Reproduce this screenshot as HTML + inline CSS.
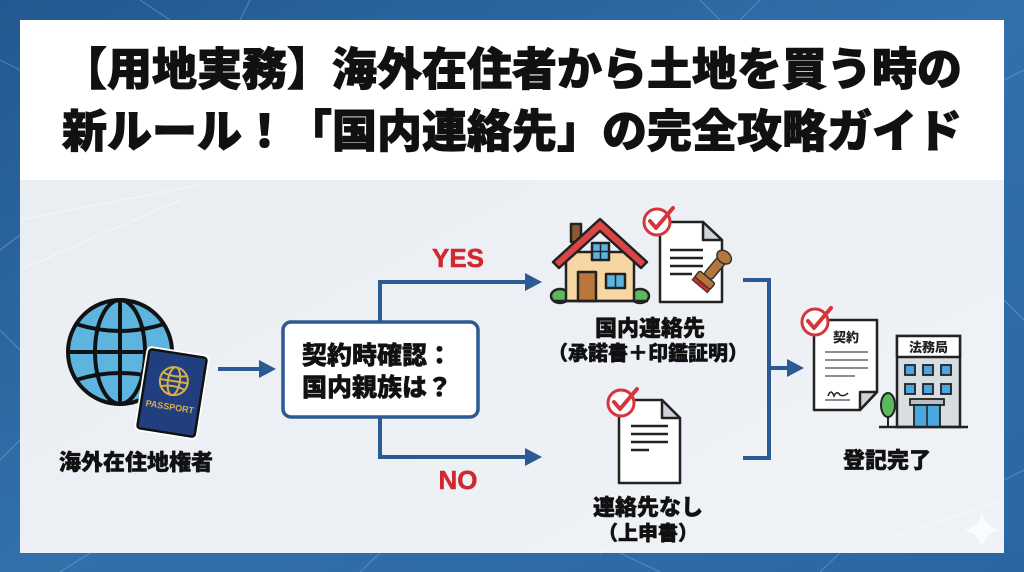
<!DOCTYPE html>
<html><head><meta charset="utf-8"><style>
html,body{margin:0;padding:0;background:#2b65a0;}
svg{display:block;}
text{font-family:"Liberation Sans","Noto Sans CJK JP",sans-serif;font-weight:900;}
.t{stroke:#111;stroke-width:1;}
.l{stroke:#111;stroke-width:0.5;}
.r{stroke:#d0282e;stroke-width:0.5;}
</style></head><body>
<svg width="1024" height="572" viewBox="0 0 1024 572" xmlns="http://www.w3.org/2000/svg">
<defs>
<linearGradient id="bg" x1="0" y1="0" x2="1" y2="1">
<stop offset="0" stop-color="#235891"/><stop offset="0.5" stop-color="#3270ab"/><stop offset="1" stop-color="#2a66a3"/>
</linearGradient>
<linearGradient id="body" x1="0" y1="0" x2="1" y2="1">
<stop offset="0" stop-color="#e9edf2"/><stop offset="1" stop-color="#eff2f6"/>
</linearGradient>
</defs>
<rect width="1024" height="572" fill="url(#bg)"/>
<g stroke="#7fb0dc" stroke-width="1.2" opacity="0.45" fill="none">
<path d="M0,60 L20,70 M0,250 L20,235 M0,330 L20,350 M0,460 L20,440 M140,0 L170,20 M250,0 L240,20 M700,0 L720,20 M760,0 L740,20 M380,553 L360,572 M620,553 L660,572 M840,553 L820,572 M1004,80 L1024,70 M1004,300 L1024,320 M1004,480 L1024,470 M90,553 L60,572"/>
</g>
<rect x="20" y="20" width="984" height="533" fill="url(#body)"/>
<rect x="20" y="20" width="984" height="160" fill="#ffffff"/>
<g stroke="#ffffff" stroke-width="1" opacity="0.5" fill="none">
<path d="M20,220 L200,185 M20,270 L180,200 M600,553 L760,470 M850,553 L1004,500"/>
</g>

<!-- Title -->
<text class="t" x="512" y="85" font-size="45" text-anchor="middle" fill="#111">【用地実務】海外在住者から土地を買う時の</text>
<text class="t" x="512" y="147" font-size="45" text-anchor="middle" fill="#111">新ルール！「国内連絡先」の完全攻略ガイド</text>

<!-- Globe -->
<g stroke="#111" stroke-width="4" fill="none">
<circle cx="120" cy="352" r="52" fill="#5db4df"/>
<ellipse cx="120" cy="352" rx="25" ry="52"/>
<line x1="120" y1="300" x2="120" y2="404"/>
<line x1="68" y1="352" x2="172" y2="352"/>
<path d="M76,324 Q120,338 164,324"/>
<path d="M76,380 Q120,366 164,380"/>
</g>
<!-- Passport -->
<g transform="translate(172,393) rotate(9)">
<rect x="-32" y="-43" width="64" height="86" rx="5" fill="#ffffff"/>
<rect x="-29" y="-40" width="58" height="80" rx="3" fill="#213f7e" stroke="#111" stroke-width="2.5"/>
<g stroke="#d7ae4c" stroke-width="2" fill="none">
<circle cx="0" cy="-12" r="14"/>
<ellipse cx="0" cy="-12" rx="6" ry="14"/>
<line x1="-14" y1="-12" x2="14" y2="-12"/>
<path d="M-12,-19 Q0,-15 12,-19 M-12,-5 Q0,-9 12,-5"/>
</g>
<text x="0" y="17" font-size="9" text-anchor="middle" fill="#d7ae4c" font-weight="700">PASSPORT</text>
</g>
<text class="l" x="136" y="470" font-size="22" text-anchor="middle" fill="#111">海外在住地権者</text>

<!-- arrow to box -->
<line x1="218" y1="369" x2="262" y2="369" stroke="#2c5a93" stroke-width="4"/>
<polygon points="259,360 276,369 259,378" fill="#2c5a93"/>

<!-- Decision box -->
<rect x="283" y="322" width="195" height="95" rx="8" fill="#ffffff" stroke="#2c5a93" stroke-width="3.5"/>
<text class="l" x="302" y="364" font-size="25" fill="#111">契約時確認：</text>
<text class="l" x="302" y="396" font-size="25" fill="#111">国内親族は？</text>

<!-- Branches -->
<path d="M380,322 V282 H528" stroke="#2c5a93" stroke-width="4" fill="none"/>
<polygon points="525,273 542,282 525,291" fill="#2c5a93"/>
<path d="M380,417 V457 H528" stroke="#2c5a93" stroke-width="4" fill="none"/>
<polygon points="525,448 542,457 525,466" fill="#2c5a93"/>
<text class="r" x="458" y="267" font-size="26" text-anchor="middle" fill="#d0282e">YES</text>
<text class="r" x="458" y="489" font-size="26" text-anchor="middle" fill="#d0282e">NO</text>

<!-- House -->
<g stroke="#222" stroke-width="2.5" stroke-linejoin="round">
<ellipse cx="560" cy="296" rx="9" ry="7" fill="#5cb85c"/>
<ellipse cx="640" cy="296" rx="9" ry="7" fill="#5cb85c"/>
<rect x="571" y="224" width="10" height="18" fill="#8a5a33"/>
<rect x="566" y="252" width="68" height="49" fill="#f6d7a3"/>
<path d="M553,262 L600,219 L647,262 L641,268 L600,231 L559,268 Z" fill="#dc4545"/>
<rect x="592" y="243" width="17" height="17" fill="#5db4df"/>
<rect x="578" y="272" width="18" height="29" fill="#b9773b"/>
<rect x="606" y="274" width="19" height="14" fill="#5db4df"/>
</g>
<line x1="553" y1="301" x2="648" y2="301" stroke="#222" stroke-width="2.5"/>
<g stroke="#222" stroke-width="1.5"><line x1="600.5" y1="243" x2="600.5" y2="260"/><line x1="592" y1="251.5" x2="609" y2="251.5"/><line x1="615.5" y1="274" x2="615.5" y2="288"/></g>

<!-- Doc top -->
<g stroke="#222" stroke-width="2.5" stroke-linejoin="round">
<path d="M660,222 H703 L722,240 V302 H660 Z" fill="#ffffff"/>
<path d="M703,222 V240 H722 Z" fill="#cfd3d8"/>
</g>
<g stroke="#222" stroke-width="2.5"><line x1="670" y1="250" x2="703" y2="250"/><line x1="670" y1="258" x2="703" y2="258"/><line x1="670" y1="266" x2="703" y2="266"/><line x1="670" y1="274" x2="692" y2="274"/></g>
<g transform="translate(710,274) rotate(40)">
<rect x="-5" y="-22" width="10" height="26" rx="3" fill="#b5763e" stroke="#333" stroke-width="1.5"/>
<ellipse cx="0" cy="-22" rx="8" ry="6" fill="#b5763e" stroke="#333" stroke-width="1.5"/>
<rect x="-10" y="4" width="20" height="8" rx="2" fill="#b5763e" stroke="#333" stroke-width="1.5"/>
<rect x="-10" y="12" width="20" height="4" fill="#d02828" stroke="#333" stroke-width="1"/>
</g>
<g>
<circle cx="657" cy="222" r="13" fill="#fff" stroke="#d5363b" stroke-width="3"/>
<path d="M650,221 L656,228 L673,208" stroke="#d5363b" stroke-width="4" fill="none" stroke-linecap="round" stroke-linejoin="round"/>
</g>
<text class="l" x="650" y="336" font-size="22" text-anchor="middle" fill="#111">国内連絡先</text>
<text class="l" x="648" y="360" font-size="20" text-anchor="middle" fill="#111">（承諾書＋印鑑証明）</text>

<!-- Doc bottom -->
<g stroke="#222" stroke-width="2.5" stroke-linejoin="round">
<path d="M619,400 H662 L680,418 V483 H619 Z" fill="#ffffff"/>
<path d="M662,400 V418 H680 Z" fill="#cfd3d8"/>
</g>
<g stroke="#222" stroke-width="2.5"><line x1="631" y1="426" x2="668" y2="426"/><line x1="631" y1="434" x2="668" y2="434"/><line x1="631" y1="442" x2="668" y2="442"/><line x1="631" y1="450" x2="649" y2="450"/></g>
<g>
<circle cx="621" cy="403" r="13" fill="#fff" stroke="#d5363b" stroke-width="3"/>
<path d="M614,402 L620,409 L637,389" stroke="#d5363b" stroke-width="4" fill="none" stroke-linecap="round" stroke-linejoin="round"/>
</g>
<text class="l" x="648" y="515" font-size="22" text-anchor="middle" fill="#111">連絡先なし</text>
<text class="l" x="648" y="540" font-size="20" text-anchor="middle" fill="#111">（上申書）</text>

<!-- Right bracket -->
<path d="M743,280 H769 V458 H743" stroke="#2c5a93" stroke-width="4" fill="none"/>
<line x1="769" y1="368" x2="790" y2="368" stroke="#2c5a93" stroke-width="4"/>
<polygon points="787,359 804,368 787,377" fill="#2c5a93"/>

<!-- Contract -->
<g stroke="#222" stroke-width="2.5" stroke-linejoin="round">
<path d="M814,320 H877 V392 L860,410 H814 Z" fill="#ffffff"/>
<path d="M877,392 H860 V410 Z" fill="#cfd3d8"/>
</g>
<text x="846" y="342" font-size="13" text-anchor="middle" fill="#222" font-weight="700">契約</text>
<g stroke="#8a8f96" stroke-width="2"><line x1="825" y1="352" x2="868" y2="352"/><line x1="825" y1="360" x2="868" y2="360"/><line x1="825" y1="368" x2="868" y2="368"/><line x1="825" y1="376" x2="855" y2="376"/><line x1="825" y1="400" x2="850" y2="400"/></g>
<path d="M828,396 q3,-8 6,0 q3,-6 6,-1 q4,2 8,-2" stroke="#222" stroke-width="1.5" fill="none"/>
<g>
<circle cx="815" cy="322" r="13" fill="#fff" stroke="#d5363b" stroke-width="3"/>
<path d="M808,321 L814,328 L831,308" stroke="#d5363b" stroke-width="4" fill="none" stroke-linecap="round" stroke-linejoin="round"/>
</g>

<!-- Building -->
<g stroke="#222" stroke-width="2.5">
<rect x="897" y="336" width="63" height="91" fill="#d8dde2"/>
<rect x="897" y="336" width="63" height="21" fill="#ffffff"/>
</g>
<text x="928.5" y="352" font-size="13" text-anchor="middle" fill="#222" font-weight="700">法務局</text>
<g fill="#4aa8dc" stroke="#222" stroke-width="1.8">
<rect x="905" y="365" width="10" height="10"/><rect x="923" y="365" width="10" height="10"/><rect x="941" y="365" width="10" height="10"/>
<rect x="905" y="384" width="10" height="10"/><rect x="923" y="384" width="10" height="10"/><rect x="941" y="384" width="10" height="10"/>
</g>
<rect x="910" y="399" width="34" height="6" fill="#b9bfc6" stroke="#222" stroke-width="1.8"/>
<rect x="914" y="405" width="26" height="22" fill="#4aa8dc" stroke="#222" stroke-width="1.8"/>
<line x1="927" y1="405" x2="927" y2="427" stroke="#222" stroke-width="1.5"/>
<line x1="888" y1="410" x2="888" y2="427" stroke="#222" stroke-width="2"/>
<ellipse cx="888" cy="405" rx="7" ry="12" fill="#5cb85c" stroke="#222" stroke-width="2"/>
<line x1="879" y1="427" x2="968" y2="427" stroke="#222" stroke-width="2.5"/>
<text class="l" x="887" y="468" font-size="22" text-anchor="middle" fill="#111">登記完了</text>

<!-- Sparkle -->
<path d="M982,512 Q985,527 1000,530 Q985,533 982,548 Q979,533 964,530 Q979,527 982,512 Z" fill="#ffffff" opacity="0.75"/>
</svg>
</body></html>
